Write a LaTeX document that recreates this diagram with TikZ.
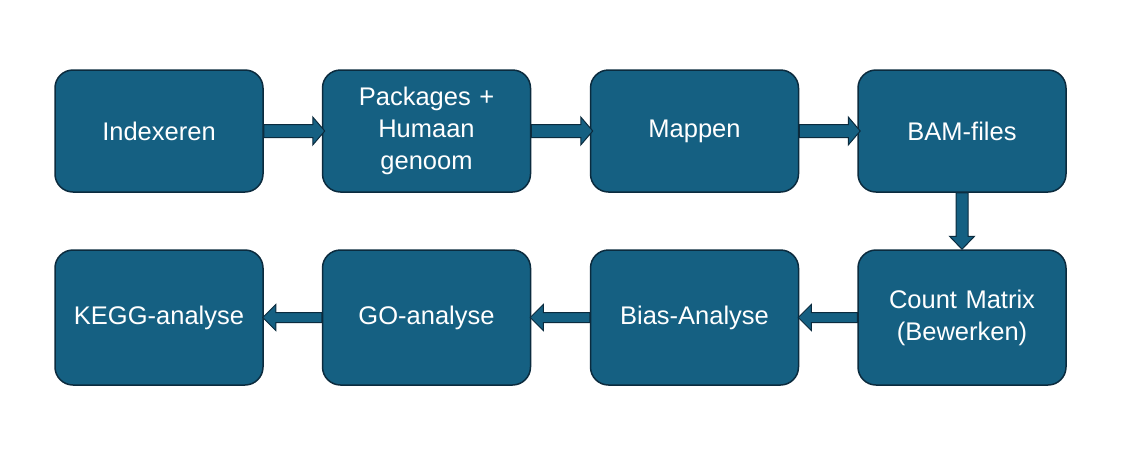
\documentclass[tikz,border=0pt]{standalone}
\usepackage{fontspec}
\setmainfont{Liberation Sans}
\usetikzlibrary{calc}
\definecolor{boxfill}{HTML}{156082}
\definecolor{boxline}{HTML}{0B2B3E}
\begin{document}
\begin{tikzpicture}[x=1pt,y=-1pt,
  box/.style={draw=boxline,line width=1.5pt,fill=boxfill,rounded corners=18pt,
    minimum width=208pt,text width=195pt,align=center,text=white,
    font=\fontsize{25.5}{32}\selectfont,inner sep=0pt},
  toprow/.style={box,minimum height=122pt},
  botrow/.style={box,minimum height=135pt},
  blockarrow/.style={draw=boxline,line width=1pt,fill=boxfill,line join=miter}]
\useasboundingbox (0,0) rectangle (1121,467);
\node[toprow] (a1) at (159,131) {Indexeren};
\node[toprow] (a2) at (426.5,131) {Packages +\\Humaan\\genoom};
\node[toprow] (a3) at (694.5,131) {Mappen};
\node[toprow] (a4) at (962,131) {BAM-files};
\node[botrow] (b4) at (962,317.5) {Count Matrix\\(Bewerken)};
\node[botrow] (b3) at (694.5,317.5) {Bias-Analyse};
\node[botrow] (b2) at (426.5,317.5) {GO-analyse};
\node[botrow] (b1) at (159,317.5) {KEGG-analyse};
% right-pointing arrows
\foreach \s/\t in {a1/a2,a2/a3,a3/a4}{
  \draw[blockarrow] ($(\s.east)+(0,-6.5)$) -- ($(\t.west)+(-9,-6.5)$) -- ($(\t.west)+(-9,-14)$)
    -- ($(\t.west)+(3,0)$) -- ($(\t.west)+(-9,14)$) -- ($(\t.west)+(-9,6.5)$)
    -- ($(\s.east)+(0,6.5)$) -- cycle;
}
% down arrow
\draw[blockarrow] ($(a4.south)+(-6,0)$) -- ($(b4.north)+(-6,-13)$) -- ($(b4.north)+(-12.5,-13)$)
  -- ($(b4.north)+(0,0)$) -- ($(b4.north)+(12.5,-13)$) -- ($(b4.north)+(6,-13)$)
  -- ($(a4.south)+(6,0)$) -- cycle;
% left-pointing arrows
\foreach \s/\t in {b4/b3,b3/b2,b2/b1}{
  \draw[blockarrow] ($(\s.west)+(0,-5)$) -- ($(\t.east)+(12,-5)$) -- ($(\t.east)+(12,-13)$)
    -- ($(\t.east)+(-1,0)$) -- ($(\t.east)+(12,13)$) -- ($(\t.east)+(12,5)$)
    -- ($(\s.west)+(0,5)$) -- cycle;
}
\end{tikzpicture}
\end{document}
